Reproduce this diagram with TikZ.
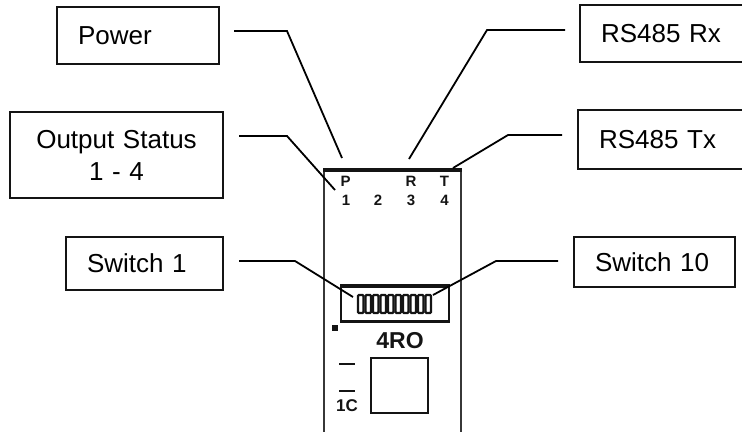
\documentclass[tikz,border=0pt]{standalone}
\usepackage{fontspec}
\setmainfont{Liberation Sans}
\definecolor{ink}{HTML}{141414}
\tikzset{
  x=1pt,y=-1pt,
  lbl/.style={draw=ink,line width=1.7pt,rectangle,inner ysep=0pt,outer sep=0pt,anchor=north west,font=\fontsize{26}{32}\selectfont,text=black},
  leader/.style={draw=black,line width=1.8pt},
  devwall/.style={draw=ink!85,line width=1.9pt},
  heavy/.style={draw=ink,line width=3.4pt},
  ledmark/.style={inner sep=0pt,font=\fontsize{15}{15}\bfseries\selectfont,text=ink},
  swcell/.style={draw=ink,line width=2.3pt,fill=white,rounded corners=1pt,minimum width=5.4pt,minimum height=18pt,inner sep=0pt,outer sep=0pt},
}
\begin{document}
\begin{tikzpicture}
\useasboundingbox (0,0) rectangle (742,432);
\begin{scope}
\clip (0,0) rectangle (742,432);
% labels
\node[lbl,minimum width=162pt,minimum height=57pt,text width=120pt,inner xsep=21pt,align=left] (power) at (57,7) {Power};
\node[lbl,minimum width=213pt,minimum height=86pt,text width=190pt,inner xsep=10pt,align=center] (output) at (10,112) {Output Status\\1 - 4};
\node[lbl,minimum width=157pt,minimum height=53pt,text width=115pt,inner xsep=21pt,align=left] (sw1) at (66,237) {Switch 1};
\node[lbl,minimum width=168pt,minimum height=57pt,text width=126pt,inner xsep=21pt,align=left] (rx) at (580,5) {\mbox{RS485 Rx}};
\node[lbl,minimum width=170pt,minimum height=59pt,text width=128pt,inner xsep=21pt,align=left] (tx) at (578,110) {\mbox{RS485 Tx}};
\node[lbl,minimum width=161pt,minimum height=50pt,text width=119pt,inner xsep=21pt,align=left] (sw10) at (574,237) {Switch 10};
\end{scope}
% device body
\draw[devwall] (324,170) -- (324,432);
\draw[devwall] (461,170) -- (461,432);
\draw[heavy] (323,170) -- (462,170);
% indicator letters and digits
\node[ledmark] (mp) at (345.5,181) {P};
\node[ledmark] (mr) at (411,181) {R};
\node[ledmark] (mt) at (444.5,181) {T};
\node[ledmark] (m1) at (346,200) {1};
\node[ledmark] (m2) at (378,200) {2};
\node[ledmark] (m3) at (411,200) {3};
\node[ledmark] (m4) at (444.5,200) {4};
% switch block
\draw[draw=ink,line width=1.8pt] (341,285) rectangle (449,322);
\draw[draw=ink,line width=3.2pt] (340,286) -- (450,286);
\draw[draw=ink,line width=2.6pt] (340,321.5) -- (450,321.5);
\foreach \i in {0,...,9}{
  \node[swcell] (c\i) at ({360.7+7.5*\i},304) {};
}
\fill[ink] (332,325) rectangle (338,330.5);
\node[inner sep=0pt,font=\fontsize{23}{23}\bfseries\selectfont,text=ink] (model) at (400,341) {4RO};
\draw[draw=ink,line width=2pt] (371,357.5) rectangle (428,413);
\draw[draw=ink,line width=1.7pt] (339,364) -- (355,364);
\draw[draw=ink,line width=1.7pt] (339,391) -- (355,391);
\node[inner sep=0pt,font=\fontsize{17}{17}\bfseries\selectfont,text=ink] (onec) at (347,406) {1C};
% connectors
\coordinate (a0) at (234,31); \coordinate (a1) at (287,31); \coordinate (a2) at (342,158);
\coordinate (b0) at (239,136); \coordinate (b1) at (287,136); \coordinate (b2) at (335,190);
\coordinate (d0) at (239,261); \coordinate (d1) at (295,261); \coordinate (d2) at (353,297);
\coordinate (e0) at (565,30); \coordinate (e1) at (487,30); \coordinate (e2) at (409,159);
\coordinate (f0) at (562,135); \coordinate (f1) at (508,135); \coordinate (f2) at (453,168);
\coordinate (g0) at (558,261); \coordinate (g1) at (496,261); \coordinate (g2) at (433,295);
\draw[leader] (a0) -- (a1) -- (a2);
\draw[leader] (b0) -- (b1) -- (b2);
\draw[leader] (d0) -- (d1) -- (d2);
\draw[leader] (e0) -- (e1) -- (e2);
\draw[leader] (f0) -- (f1) -- (f2);
\draw[leader] (g0) -- (g1) -- (g2);
\end{tikzpicture}
\end{document}
